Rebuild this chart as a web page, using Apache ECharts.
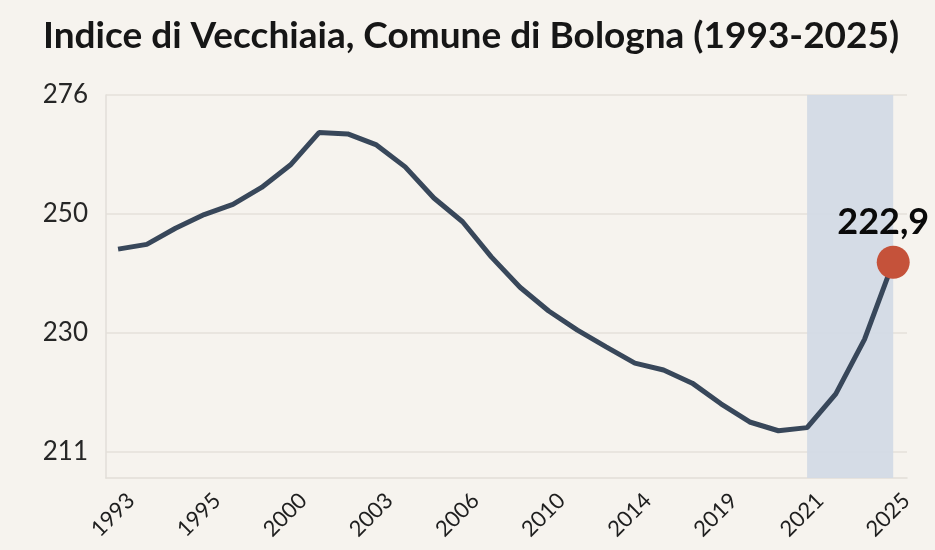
<!DOCTYPE html>
<html lang="it">
<head>
<meta charset="utf-8">
<title>Indice di Vecchiaia, Comune di Bologna</title>
<script src="https://cdn.jsdelivr.net/npm/echarts@6/dist/echarts.min.js"></script>
<style>
	html, body { margin: 0; padding: 0; background: #f6f3ee; }
	#main { width: 935px; height: 550px; }
</style>
</head>
<body>
	<div id="main"></div>
	<script type="text/javascript">
		// etichette dell'asse x (posizioni equidistanti, come nel grafico)
		var xLabels = ['1993', '1995', '2000', '2003', '2006', '2010', '2014', '2019', '2021', '2025'];
		// etichette dell'asse y (anch'esse equidistanti)
		var yTicks = [211, 230, 250, 276];
		var indexValues = [
			244.1, 244.9, 247.6, 249.9, 252.1, 255.8, 260.7, 267.8, 267.5, 265.1,
			260.3, 253.5, 248.7, 242.8, 237.7, 233.7, 230.5, 227.8, 225.2, 224.1,
			222.0, 218.7, 215.8, 214.4, 214.9, 220.3, 229.0, 241.9
		];
		var lastLabel = '222,9';
		var pointsPerLabel = 3;
		var highlightFrom = 8; // 2021
		var highlightTo = 9;   // 2025

		// scala a tratti: ogni intervallo tra due tacche ha la stessa altezza
		function toAxis(v) {
			for (var k = 0; k < yTicks.length - 1; k++) {
				if (v <= yTicks[k + 1] || k === yTicks.length - 2) {
					return k + (v - yTicks[k]) / (yTicks[k + 1] - yTicks[k]);
				}
			}
		}

		var lineData = indexValues.map(function (v, i) {
			return [i / pointsPerLabel, toAxis(v)];
		});
		var lastPoint = lineData[lineData.length - 1];

		var myChart = echarts.init(document.getElementById('main'));
		var option = {
			backgroundColor: '#f6f3ee',
			animation: false,
			title: {
				text: 'Indice di Vecchiaia, Comune di Bologna (1993-2025)',
				left: 43,
				top: 18,
				padding: 0,
				textStyle: {
					fontFamily: 'Lato',
					fontWeight: 'bold',
					fontSize: 37,
					color: '#161616'
				}
			},
			grid: {
				left: 106,
				right: 28,
				top: 95,
				bottom: 72
			},
			xAxis: {
				type: 'value',
				min: -0.14,
				max: 9.16,
				axisLine: { show: true, onZero: false, lineStyle: { color: '#e2ded8', width: 1.5 } },
				axisTick: { show: false },
				splitLine: { show: false },
				axisLabel: {
					// le etichette ruotate stanno un po' a destra della tacca
					customValues: xLabels.map(function (l, i) { return i + 0.15; }),
					formatter: function (v) { return xLabels[Math.round(v)]; },
					rotate: 45,
					margin: 19,
					fontFamily: 'Lato',
					fontSize: 22,
					color: '#1e1e1e'
				}
			},
			yAxis: {
				type: 'value',
				min: -0.218,
				max: 3,
				axisLine: { show: true, onZero: false, lineStyle: { color: '#e2ded8', width: 1.5 } },
				axisTick: { show: false, customValues: [0, 1, 2, 3] },
				splitLine: { show: true, lineStyle: { color: '#e4e0da', width: 1.5 } },
				axisLabel: {
					customValues: [0, 1, 2, 3],
					formatter: function (v) { return String(yTicks[Math.round(v)]); },
					margin: 18,
					fontFamily: 'Lato',
					fontSize: 26,
					color: '#262626'
				}
			},
			series: [
				{
					type: 'line',
					data: lineData,
					showSymbol: false,
					lineStyle: { color: '#38475a', width: 5 },
					z: 3,
					markArea: {
						silent: true,
						itemStyle: { color: '#d3dae5', opacity: 0.95 },
						data: [[{ xAxis: highlightFrom }, { xAxis: highlightTo }]]
					}
				},
				{
					type: 'scatter',
					data: [lastPoint],
					symbolSize: 33,
					itemStyle: { color: '#c5523a', opacity: 1 },
					z: 4,
					label: {
						show: true,
						position: 'top',
						distance: 5,
						offset: [-10, 0],
						formatter: lastLabel,
						fontFamily: 'Lato',
						fontWeight: 'bold',
						fontSize: 36,
						color: '#0a0a0a'
					}
				}
			]
		};

		myChart.setOption(option);
	</script>
</body>
</html>
